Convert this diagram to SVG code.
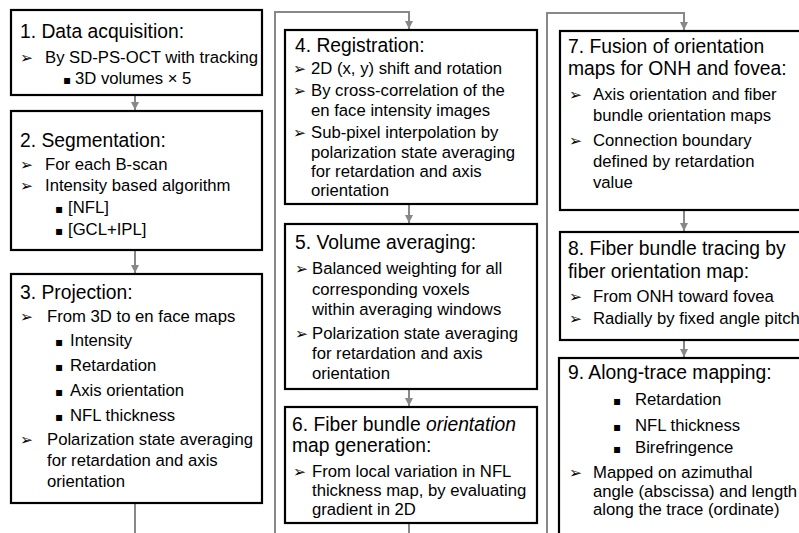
<svg xmlns="http://www.w3.org/2000/svg" width="799" height="533" viewBox="0 0 799 533">
<defs>
<marker id="ah" markerUnits="userSpaceOnUse" markerWidth="10" markerHeight="10" refX="8" refY="4" orient="auto">
<path d="M0,0 L8,4 L0,8 Z" fill="#888"/>
</marker>
<style>
.box{fill:#fff;stroke:#000;stroke-width:2.2}
.t{font-family:"Liberation Sans",Arial,sans-serif;font-size:19.3px;fill:#000}
.b{font-family:"Liberation Sans",Arial,sans-serif;font-size:16.7px;fill:#000}
.ar{font-family:"DejaVu Sans",sans-serif;font-size:15.5px;fill:#000}
.sq{font-family:"DejaVu Sans",sans-serif;font-size:12px;fill:#000}
.c{fill:none;stroke:#888;stroke-width:2}
</style>
</defs>
<rect width="799" height="533" fill="#fff"/>
<g id="connectors">
<line class="c" x1="135" y1="95" x2="135" y2="110" marker-end="url(#ah)"/>
<line class="c" x1="135" y1="250" x2="135" y2="273" marker-end="url(#ah)"/>
<line class="c" x1="135" y1="503" x2="135" y2="533"/>
<polyline class="c" points="275,533 275,12 409,12 409,29" marker-end="url(#ah)"/>
<line class="c" x1="409" y1="204" x2="409" y2="223" marker-end="url(#ah)"/>
<line class="c" x1="409" y1="389" x2="409" y2="406" marker-end="url(#ah)"/>
<line class="c" x1="409" y1="523" x2="409" y2="533"/>
<polyline class="c" points="547,533 547,13 684,13 684,30" marker-end="url(#ah)"/>
<line class="c" x1="684" y1="210" x2="684" y2="231" marker-end="url(#ah)"/>
<line class="c" x1="684" y1="340" x2="684" y2="357" marker-end="url(#ah)"/>
</g>
<g id="n1">
<rect class="box" x="11" y="10" width="251" height="85"/>
<text class="t" x="20" y="38">1. Data acquisition:</text>
<text class="ar" x="20" y="63">➢</text><text class="b" x="45" y="63">By SD-PS-OCT with tracking</text>
<text class="sq" x="63" y="84">▪</text><text class="b" x="75" y="84">3D volumes × 5</text>
</g>
<g id="n2">
<rect class="box" x="11" y="111" width="251" height="139"/>
<text class="t" x="20" y="147">2. Segmentation:</text>
<text class="ar" x="20" y="170">➢</text><text class="b" x="45" y="170">For each B-scan</text>
<text class="ar" x="20" y="191">➢</text><text class="b" x="45" y="191">Intensity based algorithm</text>
<text class="sq" x="55" y="213">▪</text><text class="b" x="68" y="213">[NFL]</text>
<text class="sq" x="55" y="235">▪</text><text class="b" x="68" y="235">[GCL+IPL]</text>
</g>
<g id="n3">
<rect class="box" x="11" y="274" width="251" height="229"/>
<text class="t" x="20" y="299">3. Projection:</text>
<text class="ar" x="20" y="322">➢</text><text class="b" x="47" y="322">From 3D to en face maps</text>
<text class="sq" x="55" y="346">▪</text><text class="b" x="70" y="346">Intensity</text>
<text class="sq" x="55" y="371">▪</text><text class="b" x="70" y="371">Retardation</text>
<text class="sq" x="55" y="396">▪</text><text class="b" x="70" y="396">Axis orientation</text>
<text class="sq" x="55" y="421">▪</text><text class="b" x="70" y="421">NFL thickness</text>
<text class="ar" x="20" y="445">➢</text><text class="b" x="47" y="445">Polarization state averaging</text>
<text class="b" x="47" y="466">for retardation and axis</text>
<text class="b" x="47" y="487">orientation</text>
</g>
<g id="n4">
<rect class="box" x="285" y="30" width="252" height="174"/>
<text class="t" x="295" y="52">4. Registration:</text>
<text class="ar" x="293" y="74">➢</text><text class="b" x="311" y="74">2D (x, y) shift and rotation</text>
<text class="ar" x="293" y="96">➢</text><text class="b" x="311" y="96">By cross-correlation of the</text>
<text class="b" x="311" y="116">en face intensity images</text>
<text class="ar" x="293" y="138">➢</text><text class="b" x="311" y="138">Sub-pixel interpolation by</text>
<text class="b" x="311" y="158">polarization state averaging</text>
<text class="b" x="311" y="177">for retardation and axis</text>
<text class="b" x="311" y="196">orientation</text>
</g>
<g id="n5">
<rect class="box" x="285" y="224" width="252" height="165"/>
<text class="t" x="295" y="249">5. Volume averaging:</text>
<text class="ar" x="295" y="274">➢</text><text class="b" x="312" y="274">Balanced weighting for all</text>
<text class="b" x="312" y="295">corresponding voxels</text>
<text class="b" x="312" y="315">within averaging windows</text>
<text class="ar" x="295" y="339">➢</text><text class="b" x="312" y="339">Polarization state averaging</text>
<text class="b" x="312" y="359">for retardation and axis</text>
<text class="b" x="312" y="379">orientation</text>
</g>
<g id="n6">
<rect class="box" x="285" y="407" width="252" height="116"/>
<text class="t" x="292" y="431">6. Fiber bundle <tspan font-style="italic">orientation</tspan></text>
<text class="t" x="292" y="452">map generation:</text>
<text class="ar" x="293" y="477">➢</text><text class="b" x="312" y="477">From local variation in NFL</text>
<text class="b" x="312" y="496">thickness map, by evaluating</text>
<text class="b" x="312" y="515">gradient in 2D</text>
</g>
<g id="n7">
<rect class="box" x="560" y="31" width="260" height="179"/>
<text class="t" x="568" y="53">7. Fusion of orientation</text>
<text class="t" x="568" y="75">maps for ONH and fovea:</text>
<text class="ar" x="569" y="100">➢</text><text class="b" x="593" y="100">Axis orientation and fiber</text>
<text class="b" x="593" y="121">bundle orientation maps</text>
<text class="ar" x="569" y="146">➢</text><text class="b" x="593" y="146">Connection boundary</text>
<text class="b" x="593" y="167">defined by retardation</text>
<text class="b" x="593" y="188">value</text>
</g>
<g id="n8">
<rect class="box" x="560" y="232" width="260" height="108"/>
<text class="t" x="568" y="255">8. Fiber bundle tracing by</text>
<text class="t" x="568" y="278">fiber orientation map:</text>
<text class="ar" x="569" y="302">➢</text><text class="b" x="593" y="302">From ONH toward fovea</text>
<text class="ar" x="569" y="324">➢</text><text class="b" x="593" y="324">Radially by fixed angle pitch</text>
</g>
<g id="n9">
<rect class="box" x="559" y="358" width="260" height="200"/>
<text class="t" x="568" y="379">9. Along-trace mapping:</text>
<text class="sq" x="613" y="405">▪</text><text class="b" x="635" y="405">Retardation</text>
<text class="sq" x="613" y="431">▪</text><text class="b" x="635" y="431">NFL thickness</text>
<text class="sq" x="613" y="453">▪</text><text class="b" x="635" y="453">Birefringence</text>
<text class="ar" x="569" y="478">➢</text><text class="b" x="593" y="478">Mapped on azimuthal</text>
<text class="b" x="593" y="497">angle (abscissa) and length</text>
<text class="b" x="593" y="515">along the trace (ordinate)</text>
</g>
</svg>
